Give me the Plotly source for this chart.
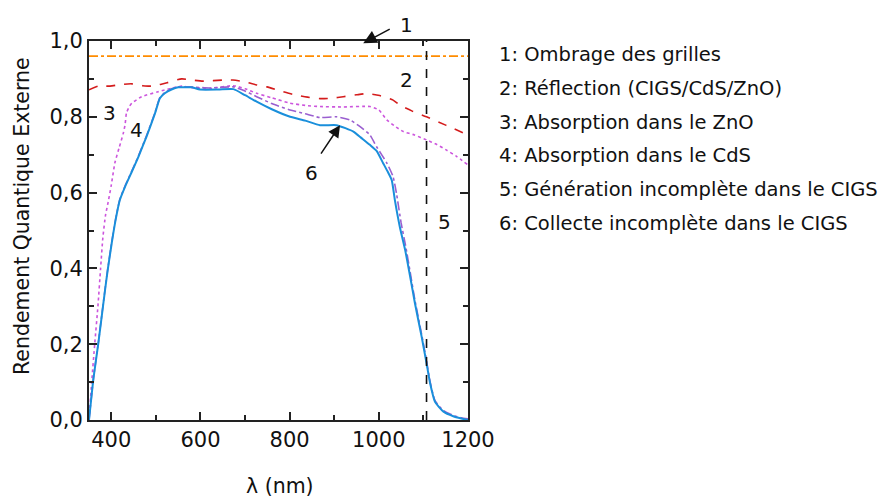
import plotly.graph_objects as go

# ---------------- data ----------------
x_grid = [350, 1200]
y_grid = [0.96, 0.96]

x_refl = [350, 371, 397, 420, 446, 470, 483, 494, 525, 558, 580, 606, 651, 673, 700, 726, 749, 780,
          808, 840, 868, 895, 920, 950, 973, 1002, 1032, 1047, 1075, 1107, 1150, 1200]
y_refl = [0.871, 0.881, 0.881, 0.885, 0.887, 0.882, 0.881, 0.881, 0.890, 0.900, 0.897, 0.894, 0.897,
          0.897, 0.892, 0.884, 0.879, 0.868, 0.859, 0.852, 0.848, 0.849, 0.853, 0.858, 0.861, 0.856,
          0.844, 0.831, 0.815, 0.800, 0.778, 0.752]

x_zno = [350, 356, 363, 370, 376, 381, 387, 393, 400, 408, 418, 427, 431, 434, 440, 446, 468, 505, 558,
         580, 621, 674, 700, 726, 760, 801, 835, 868, 920, 980, 1000, 1018, 1035, 1055, 1080, 1107,
         1130, 1152, 1175, 1200]
y_zno = [0.0, 0.10, 0.203, 0.30, 0.40, 0.48, 0.54, 0.575, 0.62, 0.678, 0.72, 0.757, 0.78, 0.81, 0.826,
         0.836, 0.853, 0.866, 0.881, 0.877, 0.875, 0.882, 0.874, 0.862, 0.850, 0.836, 0.830, 0.827,
         0.826, 0.827, 0.818, 0.792, 0.776, 0.761, 0.752, 0.739, 0.727, 0.712, 0.695, 0.673]

x_cds = [350, 360, 371, 386, 392, 401, 410, 419, 431, 446, 461, 479, 498, 509, 520, 535, 550, 576, 620,
         674, 700, 726, 760, 801, 835, 868, 905, 935, 958, 980, 995, 1018, 1032, 1040, 1050, 1060, 1070,
         1081, 1096, 1107, 1115, 1126, 1145, 1167, 1185, 1200]
y_cds = [0.0, 0.11, 0.205, 0.345, 0.398, 0.469, 0.532, 0.582, 0.618, 0.657, 0.697, 0.750, 0.811, 0.851,
         0.864, 0.874, 0.879, 0.879, 0.876, 0.879, 0.868, 0.853, 0.835, 0.818, 0.808, 0.798, 0.800,
         0.792, 0.774, 0.752, 0.721, 0.678, 0.642, 0.595, 0.520, 0.460, 0.392, 0.316, 0.226, 0.156,
         0.101, 0.051, 0.025, 0.012, 0.006, 0.003]

x_cigs = [350, 360, 371, 386, 392, 401, 410, 419, 431, 446, 461, 479, 498, 509, 520, 535, 550, 565, 580,
          599, 640, 674, 700, 726, 760, 801, 835, 868, 905, 925, 943, 960, 980, 995, 1010, 1020, 1029,
          1036, 1047, 1059, 1070, 1081, 1096, 1107, 1115, 1126, 1145, 1167, 1185, 1200]
y_cigs = [0.0, 0.11, 0.203, 0.343, 0.396, 0.467, 0.530, 0.580, 0.616, 0.655, 0.695, 0.748, 0.809, 0.849,
          0.862, 0.872, 0.878, 0.878, 0.878, 0.872, 0.872, 0.873, 0.857, 0.840, 0.820, 0.800, 0.790,
          0.778, 0.778, 0.770, 0.761, 0.745, 0.726, 0.710, 0.677, 0.655, 0.633, 0.580, 0.510, 0.449,
          0.380, 0.308, 0.220, 0.150, 0.097, 0.048, 0.022, 0.010, 0.004, 0.0]

x_gen = [1107, 1107]
y_gen = [0.0, 1.0]

y_tickvals = [0.0, 0.2, 0.4, 0.6, 0.8, 1.0]
y_ticktext = ["0,0", "0,2", "0,4", "0,6", "0,8", "1,0"]
x_tickvals = [400, 600, 800, 1000, 1200]
x_ticktext = ["400", "600", "800", "1000", "1200"]

legend_lines = ["1: Ombrage des grilles",
                "2: Réflection (CIGS/CdS/ZnO)",
                "3: Absorption dans le ZnO",
                "4: Absorption dans le CdS",
                "5: Génération incomplète dans le CIGS",
                "6: Collecte incomplète dans le CIGS"]

FONT = "DejaVu Sans"
PAGE_OFF = 8  # default body margin of the html page

fig = go.Figure()
fig.add_trace(go.Scatter(x=x_grid, y=y_grid, mode="lines",
                         line=dict(color="#ff8c00", width=1.6, dash="dashdot")))
fig.add_trace(go.Scatter(x=x_refl, y=y_refl, mode="lines",
                         line=dict(color="#d41c1c", width=1.6, dash="dash", shape="spline", smoothing=0.6)))
fig.add_trace(go.Scatter(x=x_zno, y=y_zno, mode="lines",
                         line=dict(color="#cc55dd", width=1.6, dash="dot", shape="spline", smoothing=0.5)))
fig.add_trace(go.Scatter(x=x_cds, y=y_cds, mode="lines",
                         line=dict(color="#9a5fd0", width=1.6, dash="dashdot", shape="spline", smoothing=0.5)))
fig.add_trace(go.Scatter(x=x_cigs, y=y_cigs, mode="lines",
                         line=dict(color="#1a8fdb", width=2.0, shape="spline", smoothing=0.5)))
fig.add_trace(go.Scatter(x=x_gen, y=y_gen, mode="lines",
                         line=dict(color="#111111", width=1.6, dash="dash")))

ann = []
# numbered labels on the plot
ann.append(dict(x=(1062 - 350) / 850, y=1.042, xref="paper", yref="paper", text="1", showarrow=False,
                xanchor="center", yanchor="middle",
                font=dict(family=FONT, size=20, color="#111")))
for txt, xx, yy in [("2", 1062, 0.897), ("3", 397, 0.809), ("4", 457, 0.765),
                    ("5", 1148, 0.523), ("6", 849, 0.651)]:
    ann.append(dict(x=xx, y=yy, xref="x", yref="y", text=txt, showarrow=False,
                    xanchor="center", yanchor="middle",
                    font=dict(family=FONT, size=20, color="#111")))
# arrows
ann.append(dict(x=965, y=0.994, xref="x", yref="y", ax=28, ay=-15, text="", showarrow=True,
                arrowhead=2, arrowsize=1.8, arrowwidth=1.5, arrowcolor="#111"))
ann.append(dict(x=913, y=0.778, xref="x", yref="y", ax=-20, ay=30, text="", showarrow=True,
                arrowhead=2, arrowsize=1.6, arrowwidth=1.5, arrowcolor="#111"))
# side legend text
for i, t in enumerate(legend_lines):
    ypix = 55 + i * 33.6
    ann.append(dict(x=(497 - 89) / 379, y=(420 - ypix) / 379, xref="paper", yref="paper",
                    xanchor="left", yanchor="middle", text=t, showarrow=False,
                    font=dict(family=FONT, size=19.5, color="#111")))
# axis titles
ann.append(dict(x=(22 - 89) / 379, y=(420 - 216) / 379, xref="paper", yref="paper",
                text="Rendement Quantique Externe", textangle=-90, showarrow=False,
                xanchor="center", yanchor="middle", font=dict(family=FONT, size=20.5, color="#111")))
ann.append(dict(x=(279.5 - 89) / 379, y=(420 - 486) / 379, xref="paper", yref="paper",
                text="λ (nm)", showarrow=False, xanchor="center", yanchor="middle",
                font=dict(family=FONT, size=20.5, color="#111")))

axis_common = dict(showline=True, linecolor="#222", linewidth=2, mirror="allticks", ticks="inside",
                   ticklen=8, tickwidth=1.5, tickcolor="#222", showgrid=False, zeroline=False,
                   tickfont=dict(family=FONT, size=21, color="#111"))

W, H = 889 - PAGE_OFF, 498 - PAGE_OFF
fig.update_layout(
    width=W, height=H,
    margin=dict(l=89 - PAGE_OFF, r=W - (468 - PAGE_OFF), t=41 - PAGE_OFF, b=H - (420 - PAGE_OFF)),
    paper_bgcolor="white", plot_bgcolor="white",
    showlegend=False,
    annotations=ann,
    xaxis=dict(range=[350, 1200], tickvals=x_tickvals, ticktext=x_ticktext,
               minor=dict(dtick=100, tick0=0, ticks="inside", ticklen=5, tickwidth=1.5, tickcolor="#222"),
               **axis_common),
    yaxis=dict(range=[0, 1.0], tickvals=y_tickvals, ticktext=y_ticktext,
               minor=dict(dtick=0.1, tick0=0, ticks="inside", ticklen=5, tickwidth=1.5, tickcolor="#222"),
               **axis_common),
)

fig.write_html("out.html")
